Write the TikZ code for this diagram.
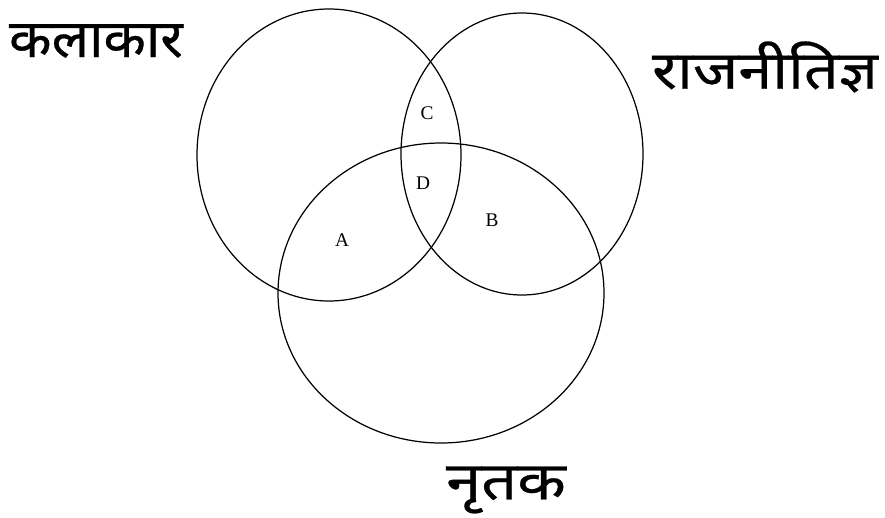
\documentclass[tikz,border=0pt]{standalone}
\usepackage{fontspec}
\setmainfont{Liberation Serif}
\newfontfamily\hindi[Script=Devanagari,FakeBold=0.5]{Noto Sans}
\begin{document}
\begin{tikzpicture}[x=0.02cm, y=-0.02cm,
  set/.style={draw, line width=0.7pt},
  region/.style={inner sep=0pt, font=\fontsize{11}{13}\selectfont},
  title/.style={inner sep=0pt, transform shape, font=\hindi\fontsize{30}{34}\selectfont}
]
  \useasboundingbox (0,0) rectangle (885,517);

  % set centres
  \coordinate (artist) at (329,155);
  \coordinate (politician) at (522,154);
  \coordinate (dancer) at (441,293);

  \draw[set] (artist) ellipse [x radius=132, y radius=146];
  \draw[set] (politician) ellipse [x radius=121, y radius=141];
  \draw[set] (dancer) ellipse [x radius=163, y radius=150];

  % set names
  \node[title, xscale=1.05] (artistname) at (96,41) {कलाकार};
  \node[title, xscale=1.16] (politicianname) at (765,67) {राजनीतिज्ञ};
  \node[title, xscale=1.2] (dancername) at (506,490) {नृतक};

  % regions
  \node[region] (c) at (427,113) {C};
  \node[region] (d) at (423,183) {D};
  \node[region] (a) at (342,240) {A};
  \node[region] (b) at (492,220) {B};
\end{tikzpicture}
\end{document}
